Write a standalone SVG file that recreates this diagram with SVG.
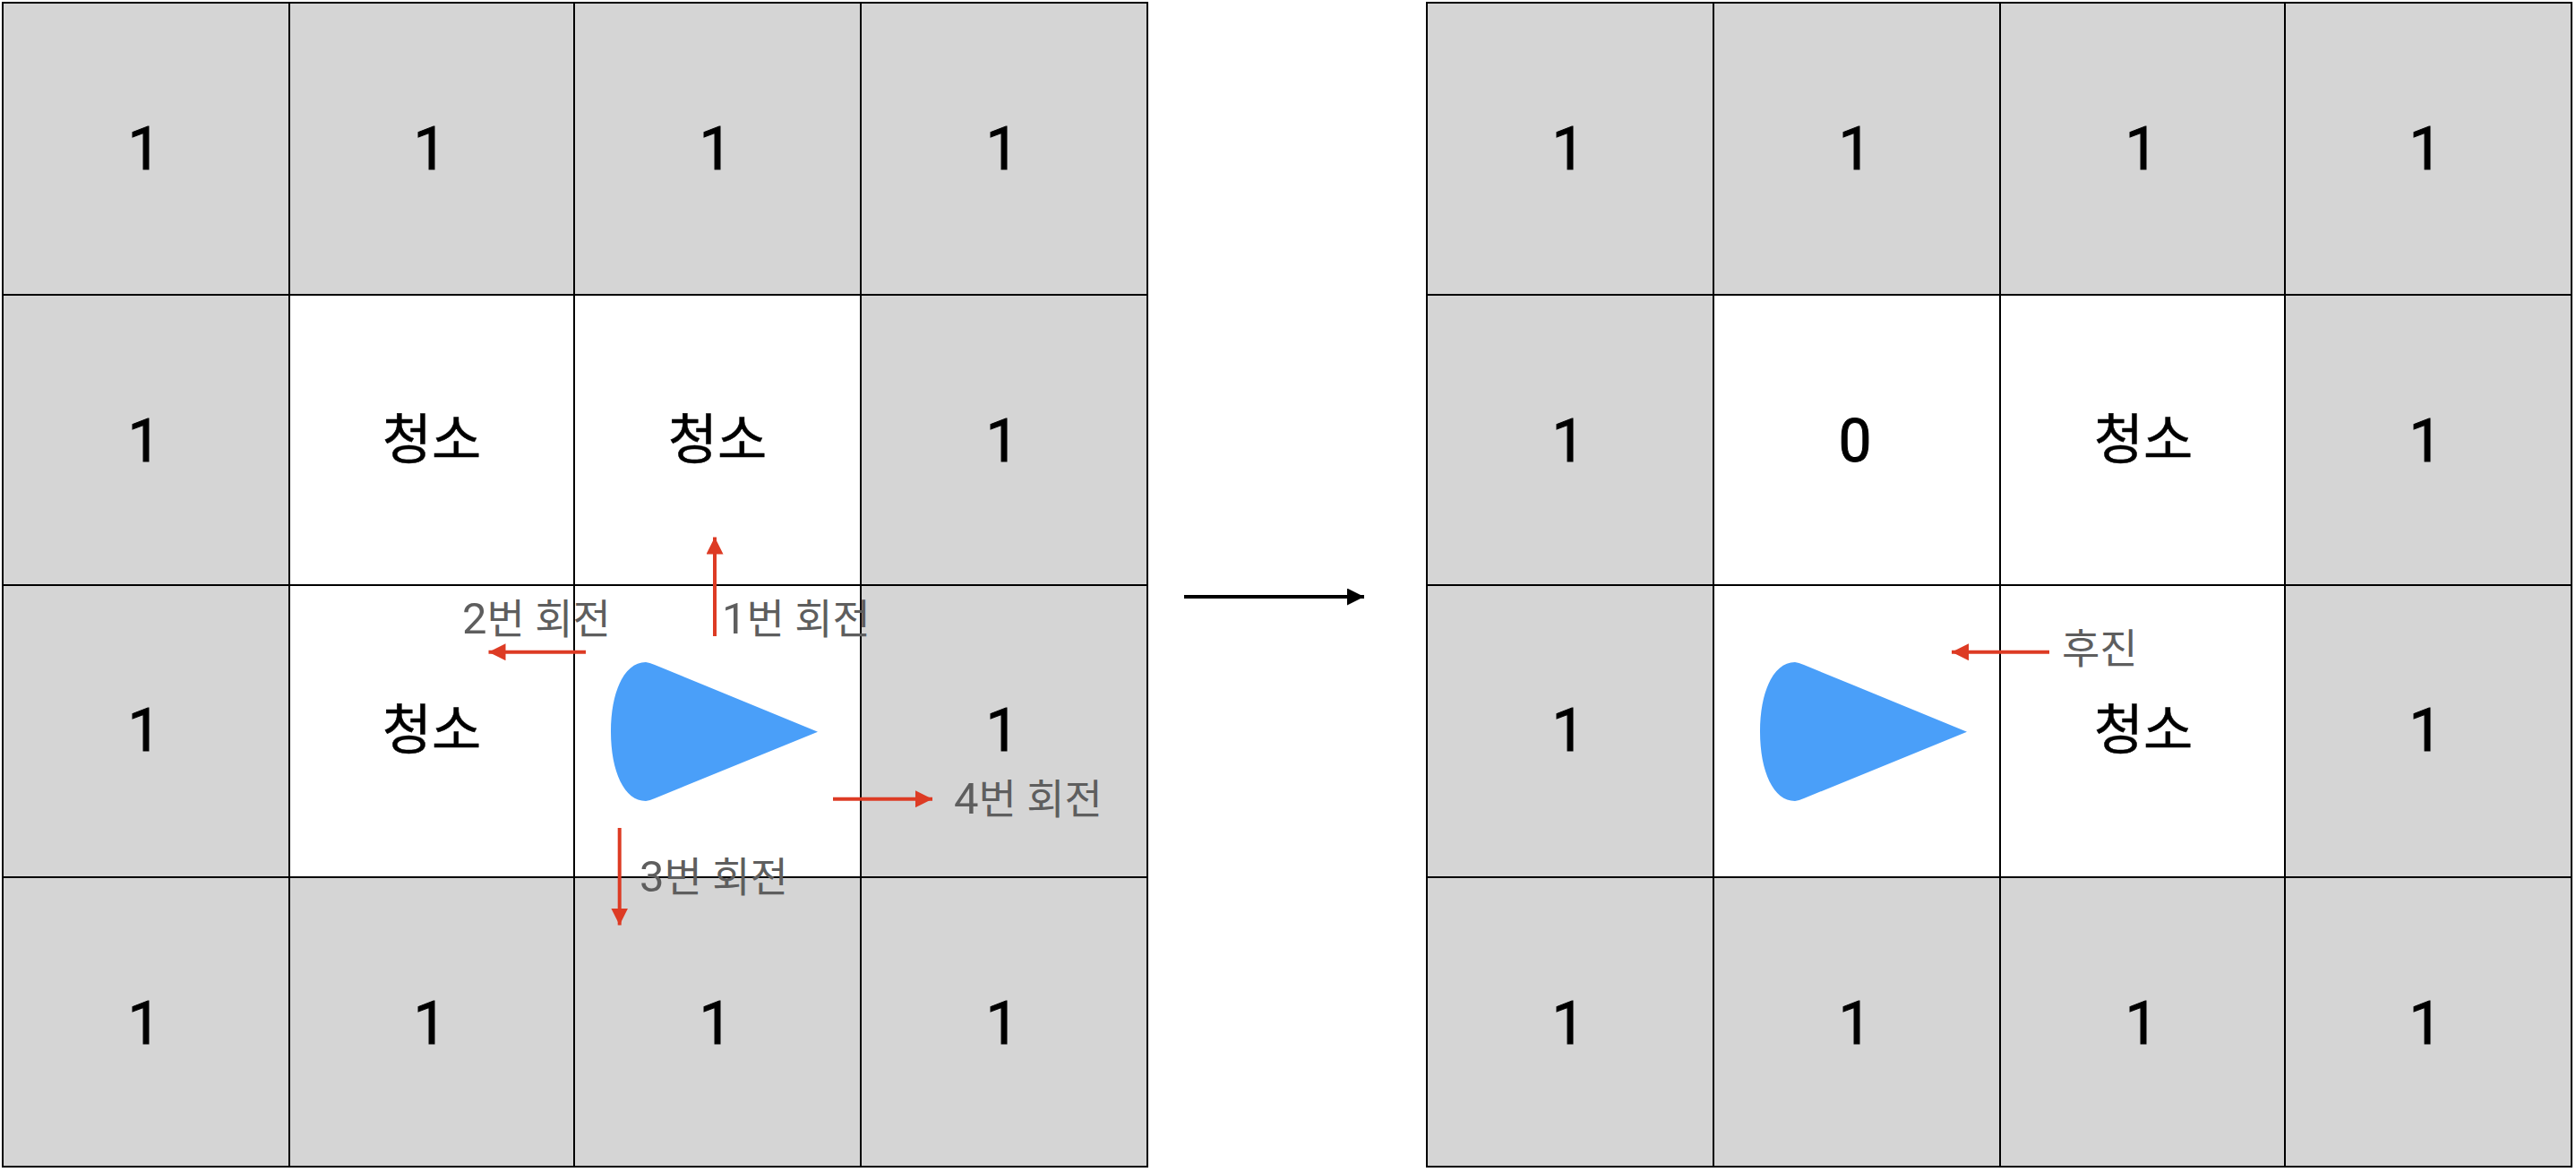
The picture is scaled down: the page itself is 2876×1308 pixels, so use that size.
<svg xmlns="http://www.w3.org/2000/svg" width="2876" height="1308" viewBox="0 0 2876 1308">
<style>
.w{fill:#fff;stroke:#000;stroke-width:2}
.g{fill:#d5d5d5;stroke:#000;stroke-width:2}
.t{font-family:Roboto,"Noto Sans CJK KR",sans-serif;font-size:66px;font-weight:400;fill:#000;stroke:#000;stroke-width:1px;text-anchor:middle}
.k{font-family:"Noto Sans CJK KR",sans-serif;font-size:60px;font-weight:400;fill:#000;stroke:#000;stroke-width:.5px;text-anchor:middle}
.l{font-family:Roboto,"Noto Sans CJK KR",sans-serif;font-size:46px;fill:#5e5e5e}
.d{font-size:49px}
.r{stroke:#dd3b24;stroke-width:4;fill:none;marker-end:url(#rh)}
.b{stroke:#000;stroke-width:4;fill:none;marker-end:url(#bh)}
.c{fill:#4a9ff9}
</style>
<defs>
<marker id="rh" markerUnits="userSpaceOnUse" markerWidth="19" markerHeight="19" refX="19" refY="9.5" orient="auto"><path d="M0 0L19 9.5L0 19Z" fill="#dd3b24"/></marker>
<marker id="bh" markerUnits="userSpaceOnUse" markerWidth="19" markerHeight="19" refX="19" refY="9.5" orient="auto"><path d="M0 0L19 9.5L0 19Z" fill="#000"/></marker>
<path id="robot" d="M913 816.7L731 742Q725 739.3 721 739C697 739 682 772 682 816.5C682 861 697 894 721 894Q725 893.7 731 891Z"/>
</defs>
<g id="L11"><rect class="g" x="3" y="3" width="320" height="326"/><text class="t" x="161" y="189">1</text></g>
<g id="L12"><rect class="g" x="323" y="3" width="318" height="326"/><text class="t" x="480" y="189">1</text></g>
<g id="L13"><rect class="g" x="641" y="3" width="320" height="326"/><text class="t" x="799" y="189">1</text></g>
<g id="L14"><rect class="g" x="961" y="3" width="320" height="326"/><text class="t" x="1119" y="189">1</text></g>
<g id="L21"><rect class="g" x="3" y="329" width="320" height="324"/><text class="t" x="161" y="515">1</text></g>
<g id="L22"><rect class="w" x="323" y="329" width="318" height="324"/><text class="k" x="482" y="512">청소</text></g>
<g id="L23"><rect class="w" x="641" y="329" width="320" height="324"/><text class="k" x="801" y="512">청소</text></g>
<g id="L24"><rect class="g" x="961" y="329" width="320" height="324"/><text class="t" x="1119" y="515">1</text></g>
<g id="L31"><rect class="g" x="3" y="653" width="320" height="326"/><text class="t" x="161" y="838">1</text></g>
<g id="L32"><rect class="w" x="323" y="653" width="318" height="326"/><text class="k" x="482" y="836">청소</text></g>
<g id="L33"><rect class="w" x="641" y="653" width="320" height="326"/></g>
<g id="L34"><rect class="g" x="961" y="653" width="320" height="326"/><text class="t" x="1119" y="838">1</text></g>
<g id="L41"><rect class="g" x="3" y="979" width="320" height="323"/><text class="t" x="161" y="1165">1</text></g>
<g id="L42"><rect class="g" x="323" y="979" width="318" height="323"/><text class="t" x="480" y="1165">1</text></g>
<g id="L43"><rect class="g" x="641" y="979" width="320" height="323"/><text class="t" x="799" y="1165">1</text></g>
<g id="L44"><rect class="g" x="961" y="979" width="320" height="323"/><text class="t" x="1119" y="1165">1</text></g>
<g id="R11"><rect class="g" x="1593" y="3" width="320" height="326"/><text class="t" x="1751" y="189">1</text></g>
<g id="R12"><rect class="g" x="1913" y="3" width="320" height="326"/><text class="t" x="2071" y="189">1</text></g>
<g id="R13"><rect class="g" x="2233" y="3" width="318" height="326"/><text class="t" x="2391" y="189">1</text></g>
<g id="R14"><rect class="g" x="2551" y="3" width="320" height="326"/><text class="t" x="2708" y="189">1</text></g>
<g id="R21"><rect class="g" x="1593" y="329" width="320" height="324"/><text class="t" x="1751" y="515">1</text></g>
<g id="R22"><rect class="w" x="1913" y="329" width="320" height="324"/><text class="t" x="2071" y="515">0</text></g>
<g id="R23"><rect class="w" x="2233" y="329" width="318" height="324"/><text class="k" x="2393" y="512">청소</text></g>
<g id="R24"><rect class="g" x="2551" y="329" width="320" height="324"/><text class="t" x="2708" y="515">1</text></g>
<g id="R31"><rect class="g" x="1593" y="653" width="320" height="326"/><text class="t" x="1751" y="838">1</text></g>
<g id="R32"><rect class="w" x="1913" y="653" width="320" height="326"/></g>
<g id="R33"><rect class="w" x="2233" y="653" width="318" height="326"/><text class="k" x="2393" y="836">청소</text></g>
<g id="R34"><rect class="g" x="2551" y="653" width="320" height="326"/><text class="t" x="2708" y="838">1</text></g>
<g id="R41"><rect class="g" x="1593" y="979" width="320" height="323"/><text class="t" x="1751" y="1165">1</text></g>
<g id="R42"><rect class="g" x="1913" y="979" width="320" height="323"/><text class="t" x="2071" y="1165">1</text></g>
<g id="R43"><rect class="g" x="2233" y="979" width="318" height="323"/><text class="t" x="2391" y="1165">1</text></g>
<g id="R44"><rect class="g" x="2551" y="979" width="320" height="323"/><text class="t" x="2708" y="1165">1</text></g>
<g id="robot-left"><use href="#robot" class="c"/></g>
<g id="robot-right"><use href="#robot" class="c" x="1283"/></g>
<g id="connectors">
<path class="r" d="M798 710V599.5"/>
<path class="r" d="M654 727.7H545.5"/>
<path class="r" d="M691.7 924V1032.5"/>
<path class="r" d="M930 891.7H1041"/>
<path class="r" d="M2288 727.7H2179"/>
<path class="b" d="M1322 666H1523"/>
</g>
<g id="labels">
<text class="l" x="806" y="707"><tspan class="d">1</tspan>번 회전</text>
<text class="l" x="516" y="707"><tspan class="d">2</tspan>번 회전</text>
<text class="l" x="714" y="995"><tspan class="d">3</tspan>번 회전</text>
<text class="l" x="1065" y="908"><tspan class="d">4</tspan>번 회전</text>
<text class="l" x="2302" y="740">후진</text>
</g>
</svg>
